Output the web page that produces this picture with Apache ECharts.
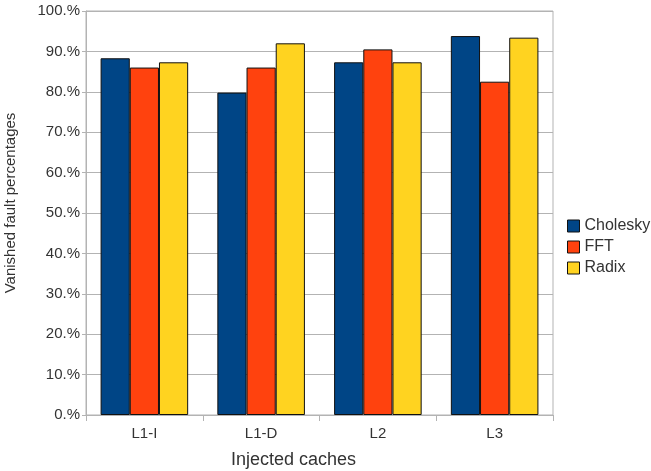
<!DOCTYPE html>
<html><head><meta charset="utf-8">
<script src="https://cdn.jsdelivr.net/npm/echarts@6/dist/echarts.min.js"></script>
<style>html,body{margin:0;padding:0;background:#fff}#c{width:651px;height:471px}</style>
</head><body><div id="c"></div>
<script>
const categories = ["L1-I", "L1-D", "L2", "L3"];
const cholesky = [88.3, 79.8, 87.3, 93.8];
const fft = [86.0, 86.0, 90.5, 82.5];
const radix = [87.3, 92.0, 87.3, 93.4];
const seriesNames = ["Cholesky", "FFT", "Radix"];
const colors = ["#004586", "#ff420e", "#ffd320"];

const font = "Liberation Sans";
const chart = echarts.init(document.getElementById('c'));
const mk = (name, data, color) => ({
  name, type: 'bar', data, barGap: '0%', barCategoryGap: '25%',
  itemStyle: { color, borderColor: '#111', borderWidth: 1 }
});
chart.setOption({
  animation: false,
  textStyle: { fontFamily: font },
  grid: { left: 86, right: 98, top: 11, bottom: 56, show: true, borderColor: '#b3b3b3', borderWidth: 1, containLabel: false, outerBoundsMode: 'none' },
  legend: {
    orient: 'vertical', left: 562, top: 213, itemWidth: 12, itemHeight: 12, itemGap: 5,
    textStyle: { fontFamily: font, fontSize: 16, color: '#333' },
    data: seriesNames.map((n, i) => ({ name: n, icon: 'rect', itemStyle: { color: colors[i], borderColor: '#111', borderWidth: 1 } }))
  },
  xAxis: {
    type: 'category', data: categories,
    name: 'Injected caches', nameLocation: 'middle', nameGap: 36,
    nameTextStyle: { fontFamily: font, fontSize: 18, color: '#333', padding: [0, 52, 0, 0] },
    axisLine: { lineStyle: { color: '#b3b3b3' } },
    axisTick: { show: true, length: 6, lineStyle: { color: '#b3b3b3' } },
    axisLabel: { fontFamily: font, fontSize: 15, color: '#333', margin: 11 }
  },
  yAxis: {
    type: 'value', min: 0, max: 100, interval: 10,
    name: 'Vanished fault percentages', nameLocation: 'middle', nameGap: 68,
    nameTextStyle: { fontFamily: font, fontSize: 15, color: '#333', padding: [0, 0, 0, 20] },
    axisLine: { show: true, lineStyle: { color: '#b3b3b3' } },
    axisTick: { show: true, length: 4, lineStyle: { color: '#b3b3b3' } },
    axisLabel: { fontFamily: font, fontSize: 15, color: '#333', margin: 6, formatter: v => v + '.%' },
    splitLine: { lineStyle: { color: '#b3b3b3' } }
  },
  series: [mk(seriesNames[0], cholesky, colors[0]), mk(seriesNames[1], fft, colors[1]), mk(seriesNames[2], radix, colors[2])]
});
</script></body></html>
